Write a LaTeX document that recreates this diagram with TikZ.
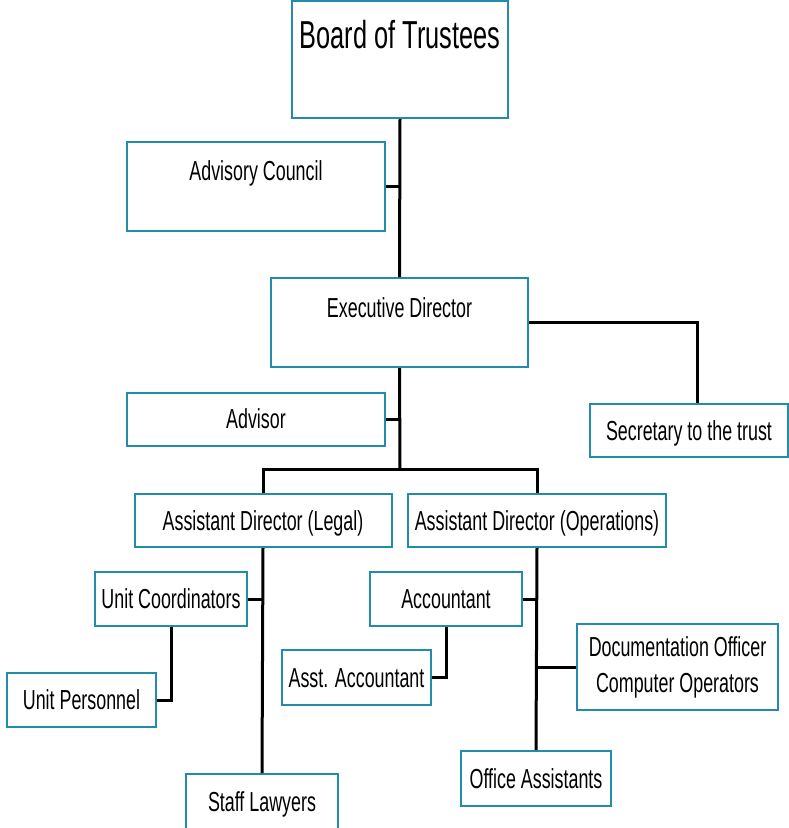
\documentclass[tikz,border=0pt]{standalone}
\usepackage{fontspec}
\setmainfont[FakeStretch=0.65]{Liberation Sans}
\definecolor{boxc}{RGB}{35,140,172}
\begin{document}
\begin{tikzpicture}[x=1pt,y=-1pt,
  frame/.style={draw=boxc, line width=2pt, inner sep=0pt, font=\fontsize{27.5}{36}\selectfont},
  box/.style={frame, text height=19.7pt, text depth=0pt},
  conn/.style={draw=black, line width=3pt},
  lbl/.style={anchor=base, inner sep=0pt, font=\fontsize{27.5}{36}\selectfont}]
\useasboundingbox[fill=white] (0,0) rectangle (789,828);
% boxes
\node[frame, minimum width=216pt, minimum height=117pt] (board) at (400,59.5) {};
\node[lbl, font=\fontsize{39}{45}\selectfont] (boardt) at (400,48) {Board of Trustees};
\node[frame, minimum width=258pt, minimum height=89pt] (adv) at (256,186.5) {};
\node[lbl] (advt) at (256,180) {Advisory Council};
\node[frame, minimum width=257pt, minimum height=89pt] (exec) at (399.5,322.5) {};
\node[lbl] (exect) at (399.5,317) {Executive Director};
\node[box, minimum width=258pt, minimum height=53pt] (advisor) at (256,419) {Advisor};
\node[box, minimum width=198pt, minimum height=53pt] (sec) at (689,430.5) {Secretary to the trust};
\node[box, minimum width=257pt, minimum height=53pt] (legal) at (263,520.5) {Assistant Director (Legal)};
\node[box, minimum width=258pt, minimum height=53pt] (ops) at (537,520.5) {Assistant Director (Operations)};
\node[box, minimum width=152pt, minimum height=54pt] (uc) at (171,599) {Unit Coordinators};
\node[box, minimum width=149pt, minimum height=54pt] (up) at (81.5,700) {Unit Personnel};
\node[box, minimum width=152pt, minimum height=56pt] (law) at (262,802) {Staff Lawyers};
\node[box, minimum width=152pt, minimum height=54pt] (acc) at (446,599) {Accountant};
\node[box, minimum width=149pt, minimum height=55pt] (asst) at (356.5,677.5) {Asst. Accountant};
\node[frame, align=center, minimum width=201pt, minimum height=86pt] (doc) at (677.5,667) {Documentation Officer\\Computer Operators};
\node[box, minimum width=150pt, minimum height=55pt] (oa) at (536,778.5) {Office Assistants};
% connectors
\coordinate (bar) at (400,469);
\draw[conn] (board.south) -- (exec.north);
\draw[conn] (adv.east) -- (adv.east -| board.south);
\draw[conn] (exec.south) -- (bar);
\draw[conn] (advisor.east) -- (advisor.east -| exec.south);
\draw[conn] (exec.east) -| ([xshift=8pt]sec.north);
\draw[conn] (legal.north) |- (bar) -| (ops.north);
\draw[conn] (legal.south) -- (law.north);
\draw[conn] (uc.east) -- (uc.east -| legal.south);
\draw[conn] (uc.south) |- (up.east);
\draw[conn] (ops.south) -- (oa.north);
\draw[conn] (acc.east) -- (acc.east -| ops.south);
\draw[conn] (acc.south) |- (asst.east);
\draw[conn] (doc.west) -- (doc.west -| ops.south);
\end{tikzpicture}
\end{document}
